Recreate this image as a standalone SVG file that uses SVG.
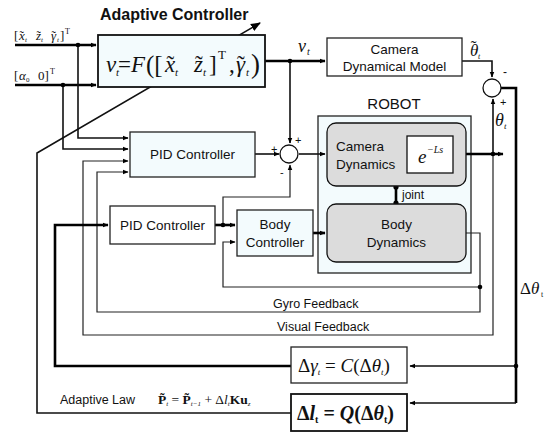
<svg xmlns="http://www.w3.org/2000/svg" width="552" height="432" viewBox="0 0 552 432">
<defs>
<marker id="ah" viewBox="0 0 10 10" refX="9" refY="5" markerWidth="6" markerHeight="6" markerUnits="userSpaceOnUse" orient="auto"><path d="M0,1 L10,5 L0,9 z" fill="#000"/></marker>
<marker id="ahb" viewBox="0 0 10 10" refX="9" refY="5" markerWidth="10" markerHeight="10" markerUnits="userSpaceOnUse" orient="auto"><path d="M0,1 L10,5 L0,9 z" fill="#000"/></marker>
</defs>
<style>
.box{fill:#fff;stroke:#222;stroke-width:1.3}
.lb{fill:#f3fbfd;stroke:#222;stroke-width:1.3}
.rb{fill:#dcdcdc;stroke:#111;stroke-width:1.3}
.sans{font-family:"Liberation Sans",Arial,sans-serif;fill:#111}
.ser{font-family:"Liberation Serif","Times New Roman",serif;fill:#111}
.it{font-style:italic}
.thick{fill:none;stroke:#000;stroke-width:2.6}
.med{fill:none;stroke:#111;stroke-width:1.6}
.thin{fill:none;stroke:#222;stroke-width:1.2}
.dot{fill:#000}
</style>
<rect width="552" height="432" fill="#fff"/>

<g id="robot">
  <rect class="lb" x="318" y="116" width="153" height="157"/>
  <text class="sans" x="394" y="109" font-size="15" text-anchor="middle">ROBOT</text>
</g>

<g id="connectors">
  <path class="med" d="M291,413 H37 V153 L260,23" marker-end="url(#ahb)"/>
  <path class="thick" d="M15,45 H96" marker-end="url(#ah)"/>
  <path class="thick" d="M15,85 H96" marker-end="url(#ah)"/>
  <path class="med" d="M78,45 V138 H128" marker-end="url(#ah)"/>
  <path class="med" d="M63,85 V149 H128" marker-end="url(#ah)"/>
  <path class="thick" d="M265,61 H325" marker-end="url(#ah)"/>
  <path class="med" d="M290,61 V143" marker-end="url(#ah)"/>
  <path class="med" d="M462,61 H492 V77" marker-end="url(#ah)"/>
  <path class="thick" d="M501,88 H516 V403"/>
  <path class="med" d="M516,366 H410" marker-end="url(#ah)"/>
  <path class="med" d="M516,403 H410" marker-end="url(#ah)"/>
  <path class="med" d="M255,154 H279" marker-end="url(#ah)"/>
  <path class="med" d="M299,154 H325" marker-end="url(#ah)"/>
  <path class="thick" d="M453,154 H503" marker-end="url(#ah)"/>
  <path class="med" d="M493,154 V99" marker-end="url(#ah)"/>
  <path class="thin" d="M493,154 V335 H83 V161 H128" marker-end="url(#ah)"/>
  <path class="thin" d="M466,233 H480 V312 H97 V172 H128" marker-end="url(#ah)"/>
  <path class="thin" d="M480,287 H223 V242 H235" marker-end="url(#ah)"/>
  <path class="thick" d="M291,366 H55 V225 H108" marker-end="url(#ah)"/>
  <path class="thick" d="M215,225 H235" marker-end="url(#ah)"/>
  <path class="thin" d="M223,225 V197 H290 V165" marker-end="url(#ah)"/>
  <path class="thick" d="M313,233 H325" marker-end="url(#ah)"/>
  <path class="thick" d="M396,187 V203"/>
  <circle class="dot" cx="396" cy="187" r="2.6"/>
  <circle class="dot" cx="396" cy="203" r="2.6"/>
  <circle class="dot" cx="78" cy="45" r="2.3"/>
  <circle class="dot" cx="63" cy="85" r="2.3"/>
  <circle class="dot" cx="290" cy="61" r="2.3"/>
  <circle class="dot" cx="493" cy="154" r="2.3"/>
  <circle class="dot" cx="516" cy="366" r="2.3"/>
  <circle class="dot" cx="480" cy="287" r="2.3"/>
  <circle class="dot" cx="223" cy="225" r="2.3"/>
</g>

<g id="title">
  <text class="sans" x="100" y="20" font-size="16" font-weight="bold">Adaptive Controller</text>
</g>

<g id="inputs" class="ser" font-size="13">
  <text class="ser" x="14" y="40">[</text>
  <text class="ser it" x="19" y="40">x</text><text class="ser" x="19.5" y="40">˜</text><text class="ser it" x="25" y="42" font-size="7">t</text>
  <text class="ser it" x="36" y="40">z</text><text class="ser" x="36.5" y="40">˜</text><text class="ser it" x="41" y="42" font-size="7">t</text>
  <text class="ser it" x="51" y="40">γ</text><text class="ser" x="51.5" y="40">˜</text><text class="ser it" x="57" y="42" font-size="7">t</text>
  <text class="ser" x="60" y="40">]</text><text class="ser" x="65" y="34" font-size="8">T</text>
  <text class="ser" x="14" y="80">[</text>
  <text class="ser it" x="19" y="80">α</text><text class="ser" x="26" y="82" font-size="7">0</text>
  <text class="ser" x="38" y="80">0]</text><text class="ser" x="50" y="74" font-size="8">T</text>
</g>

<g id="adaptive-controller">
  <rect x="98" y="35" width="167" height="52" fill="#f3fbfd" stroke="#111" stroke-width="1.8"/>
  <g font-size="23">
    <text class="ser it" x="106" y="72">v</text>
    <text class="ser it" x="116" y="76" font-size="11">t</text>
    <text class="ser" x="118" y="72">=</text>
    <text class="ser it" x="131" y="72">F</text>
    <text class="ser" x="146" y="73" font-size="25">([</text>
    <text class="ser it" x="165" y="72">x</text><text class="ser" x="166.5" y="72">˜</text>
    <text class="ser it" x="175" y="76" font-size="11">t</text>
    <text class="ser it" x="194" y="72">z</text><text class="ser" x="195" y="72">˜</text>
    <text class="ser it" x="203" y="76" font-size="11">t</text>
    <text class="ser" x="209" y="72">]</text>
    <text class="ser" x="218" y="59" font-size="13">T</text>
    <text class="ser" x="229" y="72">,</text>
    <text class="ser it" x="236" y="72">γ</text><text class="ser" x="237" y="72">˜</text>
    <text class="ser it" x="246" y="76" font-size="11">t</text>
    <text class="ser" x="251" y="73" font-size="27">)</text>
  </g>
</g>

<g id="vt-label">
  <text class="ser it" x="298" y="52" font-size="18">v</text>
  <text class="ser it" x="307" y="55" font-size="10">t</text>
</g>

<g id="camera-model">
  <rect class="box" x="327" y="38" width="135" height="38"/>
  <text class="sans" x="394.5" y="54" font-size="13.5" text-anchor="middle">Camera</text>
  <text class="sans" x="394.5" y="71" font-size="13.5" text-anchor="middle">Dynamical Model</text>
</g>

<g id="theta-tilde-label">
  <text class="ser it" x="470" y="56" font-size="17">θ<tspan font-style="normal" dx="-7.5" dy="-4">˜</tspan><tspan font-size="8" dx="1.5" dy="7">t</tspan></text>
  <text class="sans" x="503" y="76" font-size="12">-</text>
</g>

<g id="sum-top">
  <circle cx="492" cy="88" r="9" fill="#fff" stroke="#111" stroke-width="1.3"/>
  <text class="sans" x="500" y="106" font-size="11">+</text>
  <text class="ser it" x="495" y="126" font-size="18">θ</text>
  <text class="ser it" x="504" y="129" font-size="9">t</text>
</g>

<g id="pid-top">
  <rect class="lb" x="130" y="132" width="125" height="45"/>
  <text class="sans" x="192.5" y="159" font-size="13.5" text-anchor="middle">PID Controller</text>
</g>

<g id="sum-mid">
  <circle cx="289" cy="154" r="9" fill="#fff" stroke="#111" stroke-width="1.3"/>
  <text class="sans" x="271" y="153" font-size="11">+</text>
  <text class="sans" x="295" y="144" font-size="11">+</text>
  <text class="sans" x="280" y="176" font-size="11">-</text>
</g>

<g id="camera-dynamics">
  <rect class="rb" x="327" y="123" width="139" height="63" rx="9"/>
  <text class="sans" x="336" y="151" font-size="13.5">Camera</text>
  <text class="sans" x="336" y="169" font-size="13.5">Dynamics</text>
  <rect x="407" y="136" width="46" height="37" fill="#fff" stroke="#111" stroke-width="1.3"/>
  <text class="ser it" x="418" y="163" font-size="19">e</text>
  <text class="ser it" x="427" y="153" font-size="10">−Ls</text>
</g>

<g id="joint-label">
  <text class="sans" x="402" y="199" font-size="12">joint</text>
</g>

<g id="body-dynamics">
  <rect class="rb" x="327" y="204" width="139" height="58" rx="9"/>
  <text class="sans" x="396.5" y="229" font-size="13.5" text-anchor="middle">Body</text>
  <text class="sans" x="396.5" y="247" font-size="13.5" text-anchor="middle">Dynamics</text>
</g>

<g id="pid-low">
  <rect class="box" x="110" y="206" width="105" height="38"/>
  <text class="sans" x="162.5" y="230" font-size="13.5" text-anchor="middle">PID Controller</text>
</g>

<g id="body-controller">
  <rect class="lb" x="237" y="210" width="76" height="46"/>
  <text class="sans" x="275" y="229" font-size="13.5" text-anchor="middle">Body</text>
  <text class="sans" x="275" y="247" font-size="13.5" text-anchor="middle">Controller</text>
</g>

<g id="feedback-labels">
  <text class="sans" x="273" y="308" font-size="12.5">Gyro Feedback</text>
  <text class="sans" x="277" y="331" font-size="12.5">Visual Feedback</text>
  <text class="ser" x="520" y="294" font-size="17">Δ<tspan class="it">θ</tspan></text>
  <text class="ser" x="541" y="297" font-size="8">t</text>
</g>

<g id="delta-gamma">
  <rect class="box" x="291" y="347" width="116" height="36"/>
  <text class="ser" x="298" y="372" font-size="19">Δ<tspan class="it">γ</tspan><tspan class="it" font-size="9" dy="3">t</tspan><tspan dy="-3"> = </tspan><tspan class="it">C</tspan>(Δ<tspan class="it">θ</tspan><tspan class="it" font-size="9" dy="3">t</tspan><tspan dy="-3">)</tspan></text>
</g>

<g id="delta-l">
  <rect x="291" y="394" width="116" height="37" fill="#fff" stroke="#111" stroke-width="1.8"/>
  <text class="ser" x="297" y="420" font-size="20" font-weight="bold">Δ<tspan class="it">l</tspan><tspan font-size="10" dy="3">t</tspan><tspan dy="-3"> = </tspan><tspan class="it">Q</tspan>(Δ<tspan class="it">θ</tspan><tspan font-size="10" dy="3">t</tspan><tspan dy="-3">)</tspan></text>
</g>

<g id="adaptive-law">
  <text class="sans" x="60" y="404" font-size="12.5">Adaptive Law</text>
  <text class="ser" x="158" y="404" font-size="13.5" font-weight="bold">P̃<tspan font-size="7" class="it" font-weight="normal" dy="2">t</tspan><tspan dy="-2" font-weight="normal"> = </tspan>P̃<tspan font-size="7" class="it" font-weight="normal" dy="2">t−1</tspan><tspan dy="-2" font-weight="normal"> + Δ</tspan><tspan class="it" font-weight="normal">l</tspan><tspan font-size="7" class="it" font-weight="normal" dy="2">t</tspan><tspan dy="-2">Ku</tspan><tspan font-size="7" class="it" font-weight="normal" dy="2">z</tspan></text>
</g>
</svg>
